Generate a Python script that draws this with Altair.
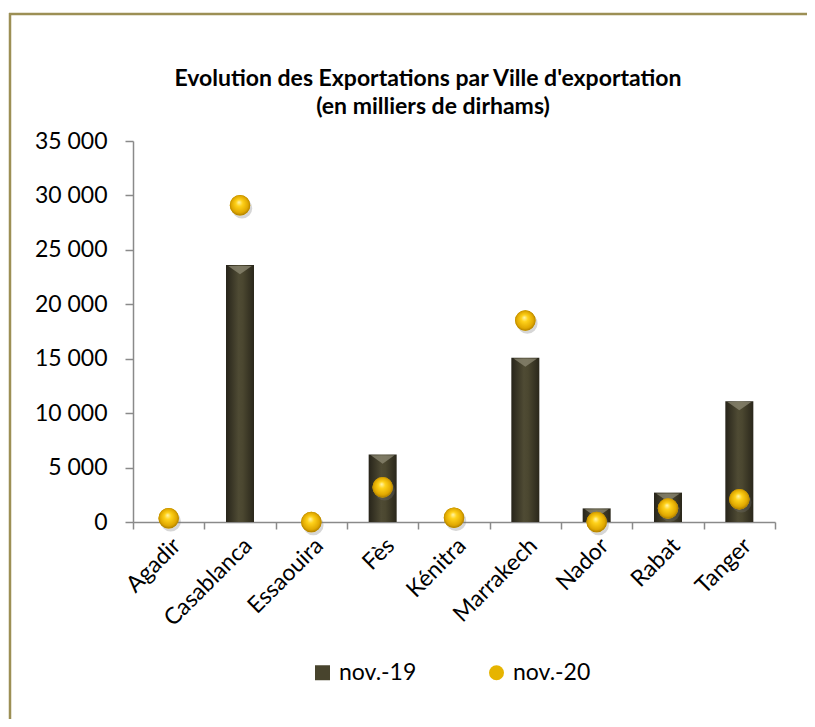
import altair as alt
import pandas as pd

cities = ["Agadir", "Casablanca", "Essaouira", "Fès", "Kénitra", "Marrakech", "Nador", "Rabat", "Tanger"]
nov19 = [0, 23600, 0, 6200, 0, 15100, 1250, 2700, 11100]
nov20 = [350, 29100, 0, 3200, 400, 18500, 0, 1250, 2100]
series = ["nov.-19", "nov.-20"]
y_ticks = [0, 5000, 10000, 15000, 20000, 25000, 30000, 35000]
title_lines = ["Evolution des Exportations par Ville d'exportation", "(en milliers de dirhams)"]

df = pd.DataFrame({"ville": cities, "nov19": nov19, "nov20": nov20})

FONT = "Lato"
AXIS_C = "#8a8a8a"

x_axis = alt.Axis(title=None, labelAngle=-45, labelFontSize=23, labelFont=FONT, labelColor="black",
                  tickBand="extent", tickSize=7, labelPadding=5, domainColor=AXIS_C, tickColor=AXIS_C,
                  domainWidth=1.5, tickWidth=1.5, grid=False)
y_axis = alt.Axis(title=None, values=y_ticks, labelExpr="replace(format(datum.value, ','), ',', ' ')",
                  labelFontSize=23, labelFont=FONT, labelColor="black", tickSize=8, labelPadding=18,
                  domainColor=AXIS_C, tickColor=AXIS_C, domainWidth=1.5, tickWidth=1.5, grid=False)
x_enc = alt.X("ville:N", sort=cities, scale=alt.Scale(paddingInner=0, paddingOuter=0), axis=x_axis)
y_scale = alt.Scale(domain=[0, 35000])

base = alt.Chart(df)

bar_grad = alt.LinearGradient(gradient="linear", x1=0, x2=1, y1=0, y2=0,
                              stops=[alt.GradientStop(offset=0, color="#27241a"),
                                     alt.GradientStop(offset=0.45, color="#4f4b34"),
                                     alt.GradientStop(offset=0.6, color="#4b4730"),
                                     alt.GradientStop(offset=1, color="#2a271b")])
bars = base.mark_bar(size=28, color=bar_grad).encode(
    x=x_enc, y=alt.Y("nov19:Q", scale=y_scale, axis=y_axis))

bevel = base.transform_filter("datum.nov19 > 500").mark_point(
    shape="M-1,-0.35L1,-0.35L0,0.35Z", filled=True, size=560, color="#8d8a74", opacity=0.75, yOffset=5
).encode(x=x_enc, y=alt.Y("nov19:Q", scale=y_scale, axis=y_axis))

shadow = base.mark_circle(size=420, color="#777777", opacity=0.3, xOffset=2, yOffset=3).encode(
    x=x_enc, y=alt.Y("nov20:Q", scale=y_scale, axis=y_axis))

leg = alt.Legend(title=None, orient="none", legendX=178, legendY=520, direction="horizontal",
                 labelFontSize=23, labelFont=FONT, labelColor="black", symbolSize=225,
                 columnPadding=68, labelOffset=5, symbolStrokeWidth=0)
legend_pts = base.transform_calculate(s="'nov.-20'").mark_point(filled=True, size=420, opacity=1).encode(
    x=x_enc, y=alt.Y("nov20:Q", scale=y_scale, axis=y_axis),
    color=alt.Color("s:N", scale=alt.Scale(domain=series, range=["#48442d", "#e6b400"]), legend=leg),
    shape=alt.Shape("s:N", scale=alt.Scale(domain=series, range=["square", "circle"]), legend=leg))

ball_grad = alt.RadialGradient(gradient="radial", x1=0.45, y1=0.35, r1=0, x2=0.5, y2=0.5, r2=0.55,
                               stops=[alt.GradientStop(offset=0, color="#fff6b0"),
                                      alt.GradientStop(offset=0.3, color="#ffd21a"),
                                      alt.GradientStop(offset=0.75, color="#e0a800"),
                                      alt.GradientStop(offset=1, color="#9a6e00")])
balls = base.mark_circle(size=420, color=ball_grad, opacity=1).encode(
    x=x_enc, y=alt.Y("nov20:Q", scale=y_scale, axis=y_axis))

one = alt.Data(values=[{}])
BORDER = "#9c8f55"
border_top = alt.Chart(one).mark_rule(color=BORDER, strokeWidth=2.5).encode(
    x=alt.value(-124), x2=alt.value(680), y=alt.value(-127))
border_left = alt.Chart(one).mark_rule(color=BORDER, strokeWidth=2.5).encode(
    x=alt.value(-123), y=alt.value(-128), y2=alt.value(600))

title1 = alt.Chart(one).mark_text(font=FONT, fontSize=23, fontWeight="bold", color="black",
                                  align="center", baseline="alphabetic").encode(
    x=alt.value(295), y=alt.value(-55), text=alt.value(title_lines[0]))
title2 = alt.Chart(one).mark_text(font=FONT, fontSize=23, fontWeight="bold", color="black",
                                  align="center", baseline="alphabetic").encode(
    x=alt.value(300), y=alt.value(-27), text=alt.value(title_lines[1]))

chart = alt.layer(bars, bevel, shadow, legend_pts, balls, border_top, border_left, title1, title2).properties(
    width=642, height=381,
    autosize=alt.AutoSizeParams(type="none"),
    padding={"left": 125, "top": 133, "right": 32, "bottom": 197},
).configure_view(stroke=None)

chart.save("out.html", embed_options={"renderer": "svg", "actions": False})
